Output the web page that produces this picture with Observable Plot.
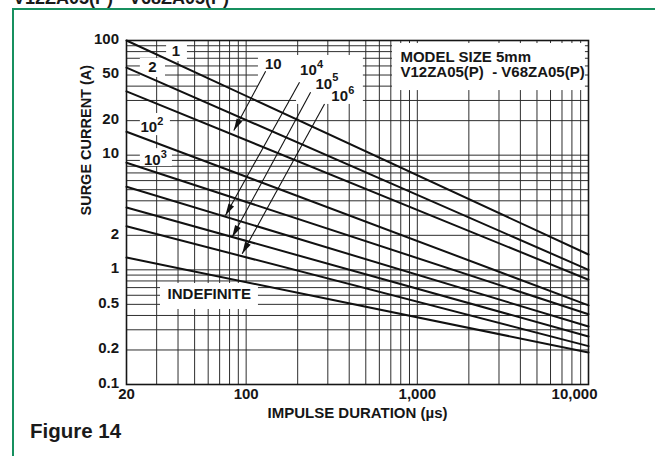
<!DOCTYPE html>
<html><head><meta charset="utf-8">
<script src="https://cdn.jsdelivr.net/npm/d3@7"></script>
<script src="https://cdn.jsdelivr.net/npm/@observablehq/plot@0.6"></script>
<style>
html,body{margin:0;padding:0;background:#fff;}
#wrap{position:relative;width:655px;height:456px;overflow:hidden;background:#fff;font-family:"Liberation Sans",Arial,Helvetica,sans-serif;}
#chart{position:absolute;left:0;top:0;width:655px;height:456px;}
#border{position:absolute;left:12px;top:8px;width:700px;height:500px;border-top:2px solid #16905f;border-left:2px solid #16905f;}
#title{position:absolute;left:13px;top:-10.7px;font-size:18px;line-height:18px;font-weight:bold;color:#1a1a1a;white-space:nowrap;}
#fig{position:absolute;left:30px;top:421px;font-size:20.5px;line-height:20.5px;font-weight:bold;color:#1a1a1a;white-space:nowrap;}
</style></head><body>
<div id="wrap">
  <div id="chart"></div>
  <div id="border"></div>
  <div id="title">V12ZA05(P) - V68ZA05(P)</div>
  <div id="fig">Figure 14</div>
</div>
<script>
// ---- data ----
const seriesNames = ["1", "2", "10", "10²", "10³", "10⁴", "10⁵", "10⁶", "INDEFINITE"];
const durationStart = 20;      // µs
const durationEnd = 10000;     // µs
const currentAtStart = [100, 58, 36, 16, 8.6, 5.3, 3.5, 2.4, 1.28];
const currentAtEnd = [1.36, 1.0, 0.82, 0.49, 0.41, 0.32, 0.262, 0.216, 0.19];

// axis ticks
const xTickValues = [20, 100, 1000];
const xTickLabels = ["20", "100", "1,000"];
const xLastTick = [10000];
const xLastTickLabel = ["10,000"];
const yTickValues = [100, 50, 20, 10, 2, 1, 0.5, 0.2, 0.1];
const yTickLabels = ["100", "50", "20", "10", "2", "1", "0.5", "0.2", "0.1"];
const xGrid = [30, 40, 50, 60, 70, 80, 90, 100, 200, 300, 400, 500, 600, 700, 800, 900,
               1000, 2000, 3000, 4000, 5000, 6000, 7000, 8000, 9000];
const yGrid = [0.2, 0.3, 0.4, 0.5, 0.6, 0.7, 0.8, 0.9, 1, 2, 3, 4, 5, 6, 7, 8, 9,
               10, 20, 30, 40, 50, 60, 70, 80, 90];

// white label boxes (data coordinates)
const boxX1 = [34.3, 24.1, 24.1, 24.1, 31.6, 118, 197, 716];
const boxX2 = [45.4, 33.8, 36.1, 37.1, 118, 208, 484, 9594];
const boxY1 = [65.6, 47.6, 14.8, 7.97, 0.451, 36.6, 27.7, 36.6];
const boxY2 = [98, 69.7, 23.1, 11.4, 0.76, 74, 74, 94.1];

// curve labels
const labelBase = ["1", "2", "10", "10", "INDEFINITE", "10", "10", "10", "10"];
const labelSup = ["", "", "2", "3", "", "", "4", "5", "6"];
const labelX = [38.9, 28.3, 27.0, 28.3, 60.9, 144, 231, 284, 352];
const labelY = [80.7, 58.5, 17.5, 8.98, 0.61, 61.8, 54.7, 41.9, 32.5];

// arrows (label -> curve)
const arrowFromX = [130, 205, 238, 287];
const arrowFromY = [54.0, 43.3, 35.4, 28.0];
const arrowToX = [84.7, 75.7, 82.9, 94.8];
const arrowToY = [16.4, 2.98, 1.93, 1.38];

// model note
const noteLines = ["MODEL SIZE 5mm", "V12ZA05(P)  - V68ZA05(P)"];
const noteX = [797, 797];
const noteY = [72.1, 53.0];

// ---- tables ----
const lineRows = seriesNames.flatMap((name, i) => [
  {series: name, duration: durationStart, current: currentAtStart[i]},
  {series: name, duration: durationEnd, current: currentAtEnd[i]}
]);
const boxRows = boxX1.map((d, i) => ({x1: boxX1[i], x2: boxX2[i], y1: boxY1[i], y2: boxY2[i]}));
const labelRows = labelBase.map((t, i) => ({base: t, sup: labelSup[i], x: labelX[i], y: labelY[i]}));
const arrowRows = arrowFromX.map((d, i) => ({x1: arrowFromX[i], y1: arrowFromY[i], x2: arrowToX[i], y2: arrowToY[i]}));
const noteRows = noteLines.map((t, i) => ({text: t, x: noteX[i], y: noteY[i]}));
const xTickRows = xTickValues.map((v, i) => ({v, label: xTickLabels[i]}));
const xLastRows = xLastTick.map((v, i) => ({v, label: xLastTickLabel[i]}));
const yTickRows = yTickValues.map((v, i) => ({v, label: yTickLabels[i]}));

const ink = "#161616";
const gridInk = "#2e2e2e";
const arrowHead = {
  draw(ctx) { ctx.moveTo(0, 0); ctx.lineTo(3.2, 12); ctx.lineTo(-3.2, 12); ctx.closePath(); }
};

function makePlot(heads) {
  return Plot.plot({
    width: 655, height: 456,
    marginLeft: 126, marginRight: 67, marginTop: 40, marginBottom: 72,
    x: {type: "log", domain: [20, 10000], axis: null},
    y: {type: "log", domain: [0.1, 100], axis: null},
    style: {fontFamily: '"Liberation Sans", Arial, Helvetica, sans-serif', fontSize: "15px",
            fontWeight: "bold", color: ink, background: "transparent", overflow: "visible"},
    marks: [
      Plot.ruleX(xGrid, {stroke: gridInk, strokeWidth: 1}),
      Plot.ruleY(yGrid, {stroke: gridInk, strokeWidth: 1}),
      Plot.rect(boxRows, {x1: "x1", x2: "x2", y1: "y1", y2: "y2", fill: "white"}),
      Plot.frame({stroke: ink, strokeWidth: 1.6}),
      Plot.line(lineRows, {x: "duration", y: "current", z: "series", stroke: "#111", strokeWidth: 2}),
      Plot.link(arrowRows, {x1: "x1", y1: "y1", x2: "x2", y2: "y2", stroke: "#111", strokeWidth: 1.1}),
      heads ? Plot.dot(heads, {x: "x2", y: "y2", symbol: arrowHead, rotate: "angle", fill: "#111", stroke: "none", r: 4}) : null,
      Plot.text(labelRows, {x: "x", y: "y", text: "base", fontSize: 15, fontWeight: "bold", fill: ink}),
      Plot.text(labelRows.filter(d => d.sup), {x: "x", y: "y", text: "sup", fontSize: 11, fontWeight: "bold", fill: ink, textAnchor: "start", dx: 8.5, dy: -6}),
      Plot.text(noteRows, {x: "x", y: "y", text: "text", fontSize: 15, fontWeight: "bold", fill: ink, textAnchor: "start"}),
      Plot.text(xTickRows, {x: "v", text: "label", frameAnchor: "bottom", dy: 14.5, fontSize: 15, fontWeight: "bold", fill: ink}),
      Plot.text(xLastRows, {x: "v", text: "label", frameAnchor: "bottom", dy: 14.5, dx: 9, textAnchor: "end", fontSize: 15, fontWeight: "bold", fill: ink}),
      Plot.text(yTickRows, {y: "v", text: "label", frameAnchor: "left", textAnchor: "end", dx: -7.5, dy: -1.5, fontSize: 15, fontWeight: "bold", fill: ink}),
      Plot.text(["IMPULSE DURATION (µs)"], {frameAnchor: "bottom", dy: 33, fontSize: 15, fontWeight: "bold", fill: ink}),
      Plot.text(["SURGE CURRENT (A)"], {frameAnchor: "left", rotate: -90, dx: -40, dy: 3, fontSize: 14.5, fontWeight: "bold", fill: ink})
    ]
  });
}

const probe = makePlot(null);
const sx = probe.scale("x"), sy = probe.scale("y");
const headRows = arrowRows.map(d => {
  const dx = sx.apply(d.x2) - sx.apply(d.x1);
  const dy = sy.apply(d.y2) - sy.apply(d.y1);
  return {...d, angle: Math.atan2(dx, -dy) * 180 / Math.PI};
});
document.getElementById("chart").appendChild(makePlot(headRows));
</script>
</body></html>
